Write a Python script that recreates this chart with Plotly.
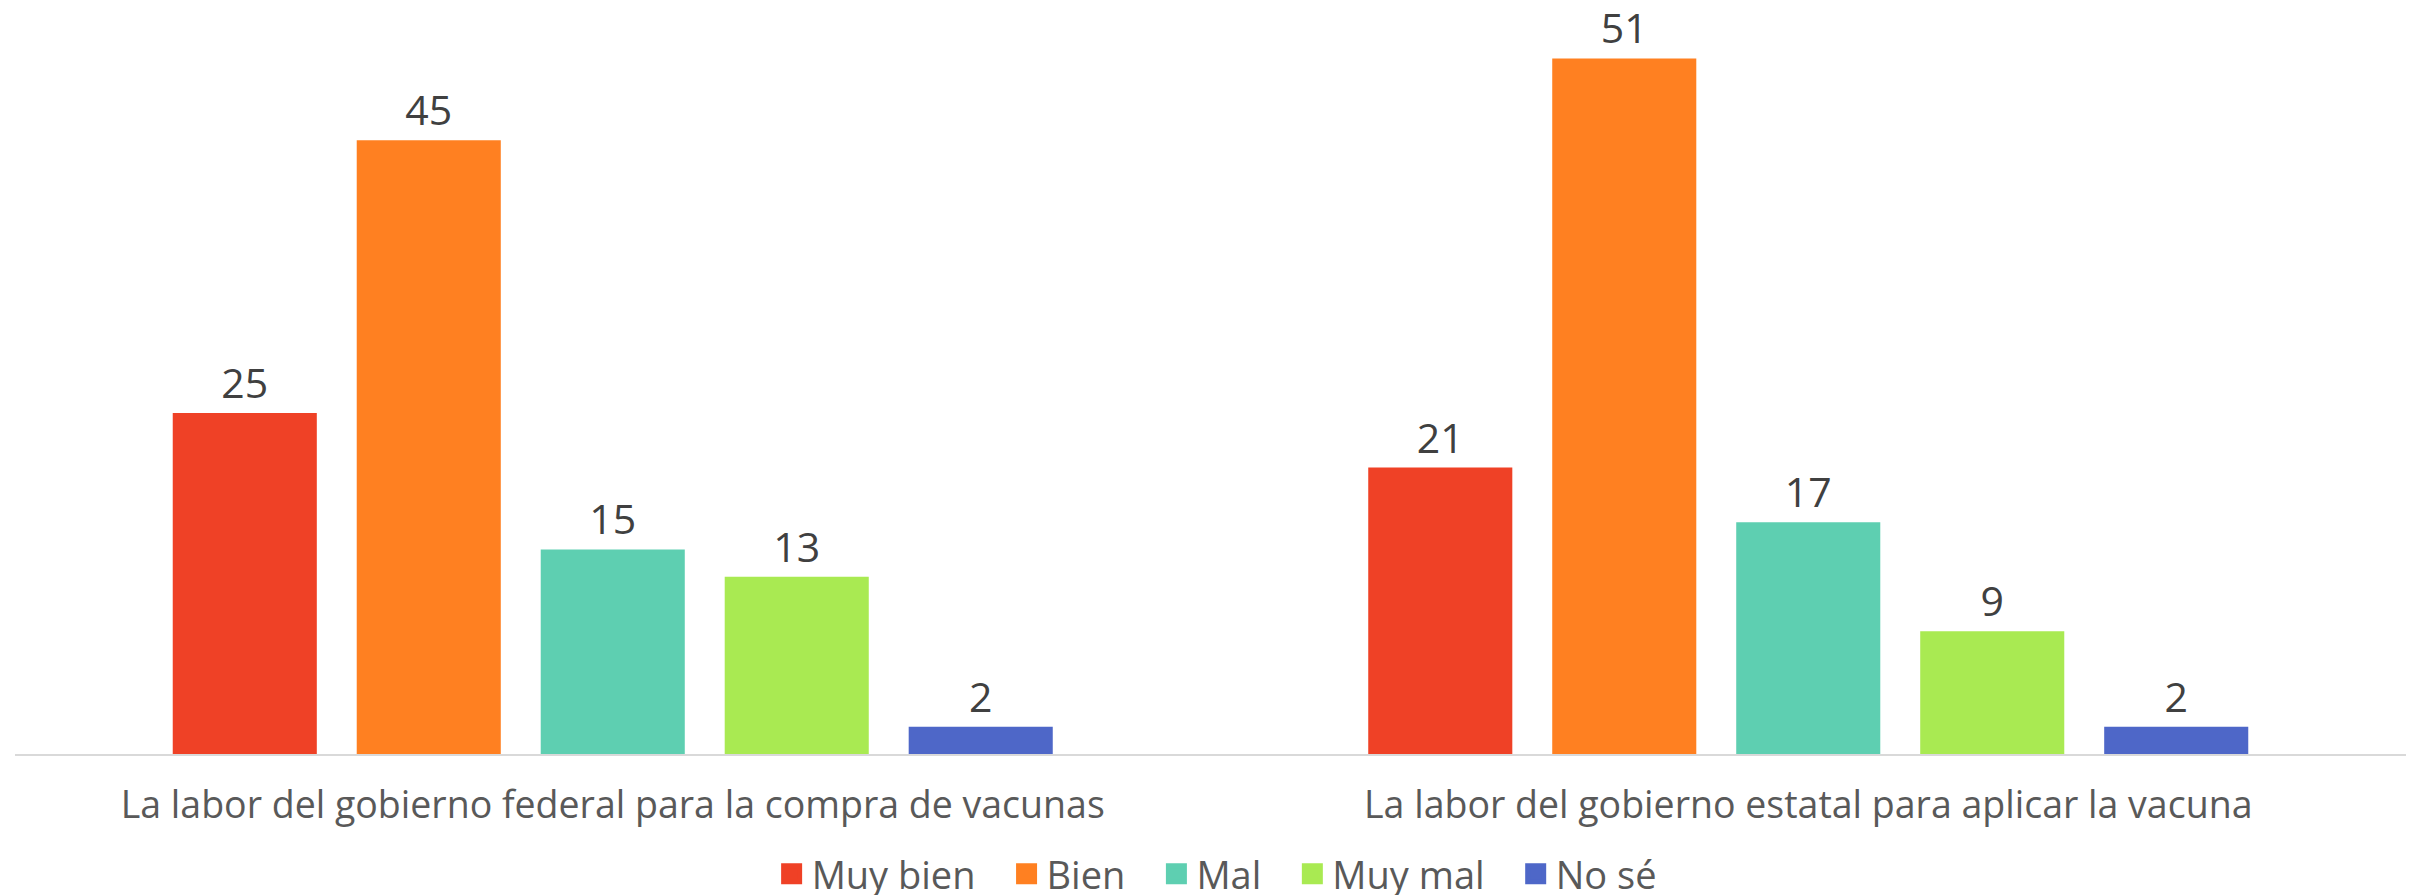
import plotly.graph_objects as go

categories = ["La labor del gobierno federal para la compra de vacunas",
              "La labor del gobierno estatal para aplicar la vacuna"]
series_names = ["Muy bien", "Bien", "Mal", "Muy mal", "No sé"]
values = {
    "Muy bien": [25, 21],
    "Bien": [45, 51],
    "Mal": [15, 17],
    "Muy mal": [13, 9],
    "No sé": [2, 2],
}
colors = {
    "Muy bien": "#EF4126",
    "Bien": "#FF8021",
    "Mal": "#5ECFB1",
    "Muy mal": "#A9EA52",
    "No sé": "#4E67C8",
}

FONT = "Open Sans"
PAD = "\u00a0\u00a0\u2009"

fig = go.Figure()
for name in series_names:
    fig.add_trace(go.Bar(
        x=categories, y=values[name], name=name, showlegend=False,
        marker=dict(color=colors[name], line=dict(width=0)),
        text=values[name], textposition="outside",
        textfont=dict(family=FONT, size=41, color="#404040"),
        cliponaxis=False,
    ))
# legend entries with larger square swatches
for name in series_names:
    fig.add_trace(go.Scatter(
        x=[None], y=[None], mode="markers", name=name + PAD, showlegend=True,
        marker=dict(symbol="square", size=16, color=colors[name],
                    line=dict(color=colors[name], width=5)),
    ))

fig.update_layout(
    width=2409, height=887,
    margin=dict(l=7, r=11, t=0, b=141, autoexpand=False),
    paper_bgcolor="white", plot_bgcolor="white",
    barmode="group", bargap=0.2305, bargroupgap=0.217,
    legend=dict(orientation="h", x=0.508, xanchor="center", y=-0.161, yanchor="middle",
                font=dict(family=FONT, size=38, color="#595959"),
                itemwidth=30, traceorder="normal", itemsizing="trace"),
    showlegend=True,
)
fig.update_xaxes(showline=True, linecolor="#D9D9D9", linewidth=2, ticks="",
                 tickfont=dict(family=FONT, size=37.5, color="#595959"),
                 ticklabelstandoff=17, showgrid=False)
fig.update_yaxes(range=[0, 54.7], visible=False, showgrid=False)

fig.write_html("out.html")
